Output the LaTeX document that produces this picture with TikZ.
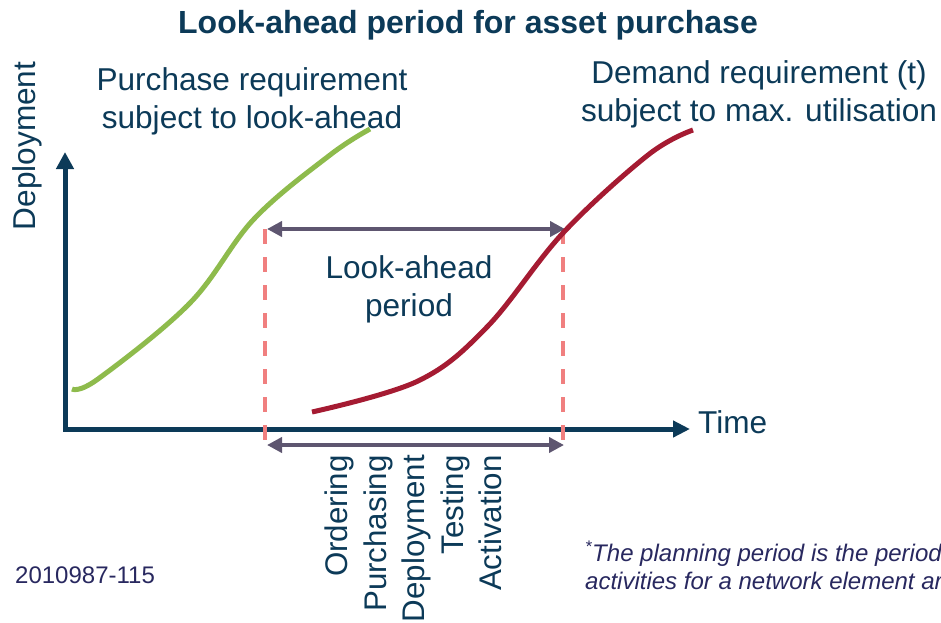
\documentclass[tikz,border=0pt]{standalone}
\usepackage{fontspec}
\setmainfont{Liberation Sans}
\usepackage{xcolor}
\usetikzlibrary{arrows.meta, positioning}

\definecolor{navy}{HTML}{0C3A58}
\definecolor{notenavy}{HTML}{28285F}
\definecolor{purchgreen}{HTML}{8EBB4C}
\definecolor{demandred}{HTML}{A51B32}
\definecolor{guidepink}{HTML}{F07F7F}
\definecolor{spangray}{HTML}{5E5670}

\begin{document}
\begin{tikzpicture}[
    x=1pt, y=-1pt,
    lbl/.style={text=navy, font=\fontsize{31.6}{37.5}\selectfont, align=center, inner sep=0pt},
    ttl/.style={text=navy, font=\fontsize{32}{38}\selectfont\bfseries, inner sep=0pt},
    note/.style={text=notenavy, font=\fontsize{24}{28}\selectfont\itshape, align=left, inner sep=0pt},
    axis/.style={draw=navy, line width=5pt, {Triangle[length=17pt, width=17pt]}-{Triangle[length=17pt, width=16pt]}},
    guide/.style={draw=guidepink, line width=4pt, dash pattern=on 15pt off 13pt},
    span/.style={draw=spangray, line width=4pt, {Triangle[length=15pt, width=15pt]}-{Triangle[length=15pt, width=15pt]}},
    curve/.style={line width=5pt, smooth, tension=0.6}
]
\clip (0,0) rectangle (941,622);

% axes
\coordinate (ytip) at (65,152);
\coordinate (orig) at (65,429);
\coordinate (xtip) at (690,429);
\draw[axis] (ytip) -- (orig) -- (xtip);

% look-ahead window
\coordinate (lt) at (265,229);
\coordinate (lb) at (265,448);
\coordinate (rt) at (563,229);
\coordinate (rb) at (563,448);
\coordinate (la) at (267,445);
\coordinate (ra) at (564,445);
\draw[guide] (lt) -- (lb);
\draw[guide] (rt) -- (rb);
\draw[span] ([xshift=2pt]lt) -- ([xshift=2pt]rt);
\draw[span] (la) -- (ra);

% requirement curves
\draw[curve, purchgreen] plot coordinates {(72,389) (98,379) (190,303)
    (254,219) (330,155) (370,129)};
\draw[curve, demandred] plot coordinates {(312,412) (418,381)
    (487,327) (563,233) (648,155) (693,130)};

% texts
\node[ttl, anchor=base] (title) at (468,33) {Look-ahead period for asset purchase};
\node[lbl, anchor=north] (purch) at (252,67.5) {Purchase requirement\\subject to look-ahead};
\node[lbl, anchor=north] (demand) at (759,60.5) {Demand requirement (t)\\subject to max. utilisation};
\node[lbl, anchor=north] (look) at (409,255.5) {Look-ahead\\period};
\node[lbl, anchor=base west] (time) at (698,433) {Time};
\node[lbl, rotate=90, anchor=base] (deploy) at (35,146) {Deployment};
\node[lbl, font=\fontsize{31.3}{38.5}\selectfont, align=right, rotate=90, anchor=north east]
    (steps) at (325,455) {Ordering\\Purchasing\\Deployment\\Testing\\Activation};
\node[note, anchor=north west] (fn) at (585,541)
    {\textsuperscript{*}The planning period is the period\\activities for a network element ar};
\node[note, font=\fontsize{24}{28}\selectfont, anchor=base west] (code) at (15,583) {2010987-115};
\end{tikzpicture}
\end{document}
